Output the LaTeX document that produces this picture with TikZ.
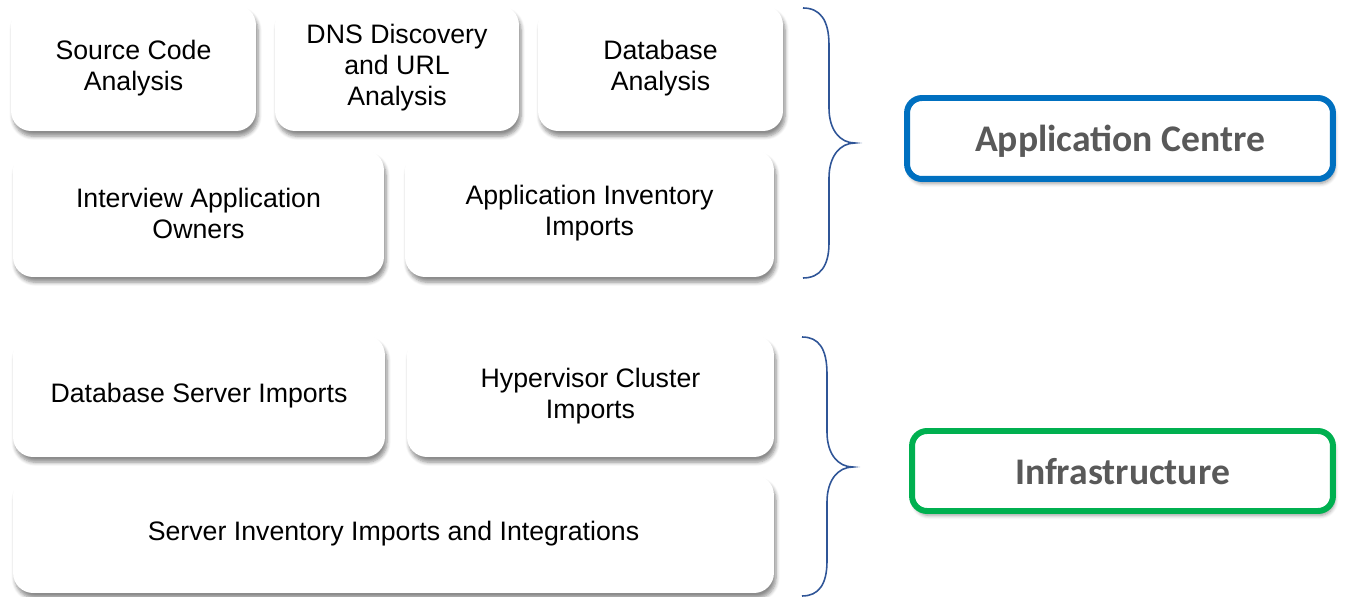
\documentclass[tikz,border=0pt]{standalone}
\usepackage{fontspec}
\setmainfont{Liberation Sans}
\newfontfamily\calibri{Carlito}
\usepackage{xcolor}
\usetikzlibrary{shadows.blur}
\definecolor{appblue}{HTML}{0070C0}
\definecolor{infragreen}{HTML}{00B050}
\definecolor{bracecol}{HTML}{2F5597}
\definecolor{labelgray}{HTML}{595959}

\tikzset{
	tile/.style={rectangle, rounded corners=0.4cm, fill=white, align=center,
		font=\fontsize{15.2}{17.6}\selectfont,
		blur shadow={shadow xshift=1.2pt, shadow yshift=-3pt, shadow blur steps=6, shadow opacity=45}},
	layer/.style={rectangle, rounded corners=0.3cm, fill=white, line width=3.4pt,
		font=\calibri\bfseries\fontsize{21.4}{25}\selectfont, text=labelgray, text depth=0pt,
		blur shadow={shadow xshift=1pt, shadow yshift=-2.5pt, shadow blur steps=5, shadow opacity=40}},
	curly/.style={draw=bracecol, line width=0.9pt}
}

\begin{document}
\begin{tikzpicture}[x=0.02cm, y=-0.02cm]
	\useasboundingbox (0,0) rectangle (1346,597);
	% application sources
	\node[tile, minimum width=4.9cm, minimum height=2.52cm] (src) at (133.5,68) {Source Code\\Analysis};
	\node[tile, minimum width=4.88cm, minimum height=2.52cm] (dns) at (397,68) {DNS Discovery\\and URL\\Analysis};
	\node[tile, minimum width=4.9cm, minimum height=2.52cm] (dba) at (660.5,68) {Database\\Analysis};
	\node[tile, minimum width=7.42cm, minimum height=2.54cm] (owners) at (198.5,213.5) {Interview Application\\Owners};
	\node[tile, minimum width=7.38cm, minimum height=2.54cm] (appinv) at (589.5,213.5) {Application Inventory\\Imports};
	% infrastructure sources
	\node[tile, minimum width=7.44cm, minimum height=2.44cm] (dbsrv) at (199,396) {Database Server Imports};
	\node[tile, minimum width=7.34cm, minimum height=2.44cm] (hyper) at (590.5,396) {Hypervisor Cluster\\Imports};
	\node[tile, minimum width=15.22cm, minimum height=2.36cm] (srvinv) at (393.5,534) {Server Inventory Imports and Integrations};

	% braces
	\draw[curly] (803,8) .. controls (820,8) and (829,20) .. (829,45) -- (829,108)
		.. controls (829,130) and (840,143) .. (855,143)
		.. controls (840,143) and (829,156) .. (829,178) -- (829,243)
		.. controls (829,266) and (820,278) .. (803,278);
	\draw[curly] (802,337) .. controls (819,337) and (827,349) .. (827,374) -- (827,432)
		.. controls (827,454) and (838,467) .. (853,467)
		.. controls (838,467) and (827,480) .. (827,502) -- (827,561)
		.. controls (827,584) and (819,596) .. (802,596);

	% layers
	\node[layer, draw=appblue, minimum width=8.52cm, minimum height=1.62cm] (appc) at (1120,138.5) {Application Centre};
	\node[layer, draw=infragreen, minimum width=8.42cm, minimum height=1.6cm] (infra) at (1122.5,471) {Infrastructure};
\end{tikzpicture}
\end{document}
